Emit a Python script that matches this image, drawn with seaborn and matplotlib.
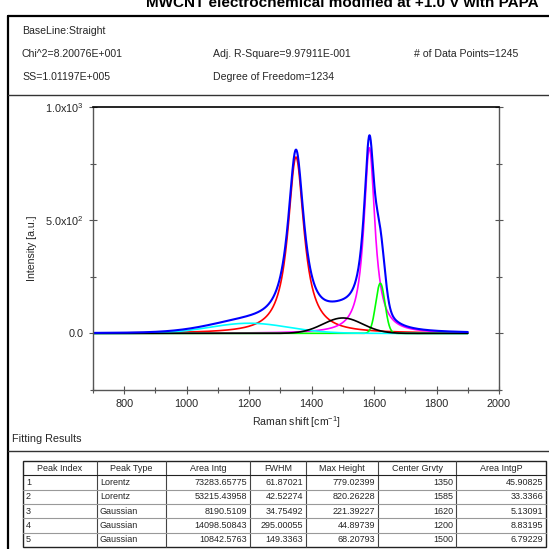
import numpy as np
import pandas as pd
import matplotlib
matplotlib.use("Agg")
import matplotlib.pyplot as plt
import seaborn as sns
from matplotlib.patches import Rectangle
from matplotlib.ticker import FixedLocator

# ---------------- data ----------------
title = "MWCNT electrochemical modified at +1.0 V with PAPA"
header_lines = ["BaseLine:Straight",
                "Chi^2=8.20076E+001", "Adj. R-Square=9.97911E-001", "# of Data Points=1245",
                "SS=1.01197E+005", "Degree of Freedom=1234"]
peak_index = ["1", "2", "3", "4", "5"]
peak_type = ["Lorentz", "Lorentz", "Gaussian", "Gaussian", "Gaussian"]
area_intg = ["73283.65775", "53215.43958", "8190.5109", "14098.50843", "10842.5763"]
fwhm = [61.87021, 42.52274, 34.75492, 295.00055, 149.3363]
fwhm_txt = ["61.87021", "42.52274", "34.75492", "295.00055", "149.3363"]
max_height = [779.02399, 820.26228, 221.39227, 44.89739, 68.20793]
max_height_txt = ["779.02399", "820.26228", "221.39227", "44.89739", "68.20793"]
center = [1350, 1585, 1620, 1200, 1500]
area_intgp = ["45.90825", "33.3366", "5.13091", "8.83195", "6.79229"]
col_names = ["Peak Index", "Peak Type", "Area Intg", "FWHM", "Max Height", "Center Grvty", "Area IntgP"]
peak_colors = ["#ff0000", "#ff00ff", "#00ff00", "#00ffff", "#000000"]
cum_color = "#0000ff"
x_start, x_end, n_points = 700, 1900, 1245

# ---------------- curves from fitted parameters ----------------
x = np.linspace(x_start, x_end, n_points)
curves = {}
for i in range(5):
    if peak_type[i] == "Lorentz":
        y = max_height[i] * fwhm[i] ** 2 / (4 * (x - center[i]) ** 2 + fwhm[i] ** 2)
    else:
        y = max_height[i] * np.exp(-4 * np.log(2) * (x - center[i]) ** 2 / fwhm[i] ** 2)
    curves[f"Peak{i+1}"] = y
cum = np.sum(list(curves.values()), axis=0)

rows = []
for k, y in curves.items():
    rows.append(pd.DataFrame({"x": x, "y": y, "series": k}))
df = pd.concat(rows, ignore_index=True)
df_cum = pd.DataFrame({"x": x, "y": cum})

# ---------------- figure ----------------
sns.set_theme(style="white")
plt.rcParams["font.family"] = ["Liberation Sans", "DejaVu Sans"]
plt.rcParams["mathtext.default"] = "regular"

W = H = 549
fig = plt.figure(figsize=(5.49, 5.49), dpi=100)
fig.patch.set_facecolor("white")

# overlay axes in pixel coordinates (y downward)
ov = fig.add_axes([0, 0, 1, 1])
ov.set_xlim(0, W)
ov.set_ylim(H, 0)
ov.axis("off")
ov.set_zorder(-1)

# title (cut off at top, as in the reference)
ov.text(342, 7, title, ha="center", va="baseline", fontsize=11, fontweight="bold", color="black")
# frame
ov.plot([8, W + 5], [15.5, 15.5], color="black", lw=1.6)
ov.plot([8, 8], [15.5, H + 5], color="black", lw=1.6)
ov.plot([8, W + 5], [95, 95], color="#333333", lw=1.0)
ov.plot([8, W + 5], [451, 451], color="#333333", lw=1.0)

fs = 7.6
ov.text(22, 34, header_lines[0], fontsize=fs, va="baseline")
ov.text(22, 57, header_lines[1], fontsize=fs, va="baseline")
ov.text(213, 57, header_lines[2], fontsize=fs, va="baseline")
ov.text(414, 57, header_lines[3], fontsize=fs, va="baseline")
ov.text(22, 80, header_lines[4], fontsize=fs, va="baseline")
ov.text(213, 80, header_lines[5], fontsize=fs, va="baseline")

ov.text(12, 442, "Fitting Results", fontsize=7.8, va="baseline")

# table
cols = [23, 97, 166, 250, 306, 378, 456, 546]
top, bot = 461, 547
row_h = (bot - top) / 6
ov.add_patch(Rectangle((cols[0], top), cols[-1] - cols[0], bot - top, fill=False, ec="#222222", lw=1.0))
for c in cols[1:-1]:
    ov.plot([c, c], [top, bot], color="#444444", lw=0.8)
for r in range(1, 6):
    yy = top + r * row_h
    ov.plot([cols[0], cols[-1]], [yy, yy], color="#222222" if r == 1 else "#999999", lw=0.8)
tfs = 6.5
for j, name in enumerate(col_names):
    ov.text((cols[j] + cols[j + 1]) / 2, top + row_h / 2, name, fontsize=tfs, ha="center", va="center")
table_cols = [peak_index, peak_type, area_intg, fwhm_txt, max_height_txt, [str(c) for c in center], area_intgp]
for j, col in enumerate(table_cols):
    for r, val in enumerate(col):
        yy = top + (r + 1.5) * row_h
        if j < 2:
            ov.text(cols[j] + 3, yy, val, fontsize=tfs, ha="left", va="center")
        else:
            ov.text(cols[j + 1] - 3, yy, val, fontsize=tfs, ha="right", va="center")

# main plot axes: left 93, right 499, top 107, bottom 390 (pixels)
ax = fig.add_axes([93 / W, 1 - 390 / H, (499 - 93) / W, (390 - 107) / H])
sns.lineplot(data=df, x="x", y="y", hue="series", palette=peak_colors, lw=1.2,
             legend=False, ax=ax, sort=False)
sns.lineplot(data=df_cum, x="x", y="y", color=cum_color, lw=1.5, ax=ax, sort=False)

ax.set_xlim(700, 2000)
ax.set_ylim(-250, 1000)
ax.xaxis.set_major_locator(FixedLocator([800, 1000, 1200, 1400, 1600, 1800, 2000]))
ax.xaxis.set_minor_locator(FixedLocator([700, 900, 1100, 1300, 1500, 1700, 1900]))
ax.yaxis.set_major_locator(FixedLocator([0, 500, 1000]))
ax.yaxis.set_minor_locator(FixedLocator([-250, 250, 750]))
ax.set_yticklabels(["0.0", "5.0x10$^{2}$", "1.0x10$^{3}$"])
ax.set_xlabel("Raman shift [cm$^{-1}$]", fontsize=7.6, labelpad=4)
ax.set_ylabel("Intensity [a.u.]", fontsize=7.6, labelpad=6)
ax.tick_params(axis="both", which="both", labelsize=7.8, color="#555555",
               direction="inout", bottom=True, left=True, right=True, top=False)
ax.tick_params(axis="both", which="major", length=6, width=0.8)
ax.tick_params(axis="both", which="minor", length=4, width=0.8)
ax.tick_params(axis="y", which="both", right=True, labelright=False)
for s in ["left", "bottom", "right"]:
    ax.spines[s].set_color("#555555")
    ax.spines[s].set_linewidth(1.0)
ax.spines["top"].set_color("black")
ax.spines["top"].set_linewidth(1.2)
ax.set_facecolor("white")
ax.grid(False)

fig.savefig("out.png", dpi=100)
